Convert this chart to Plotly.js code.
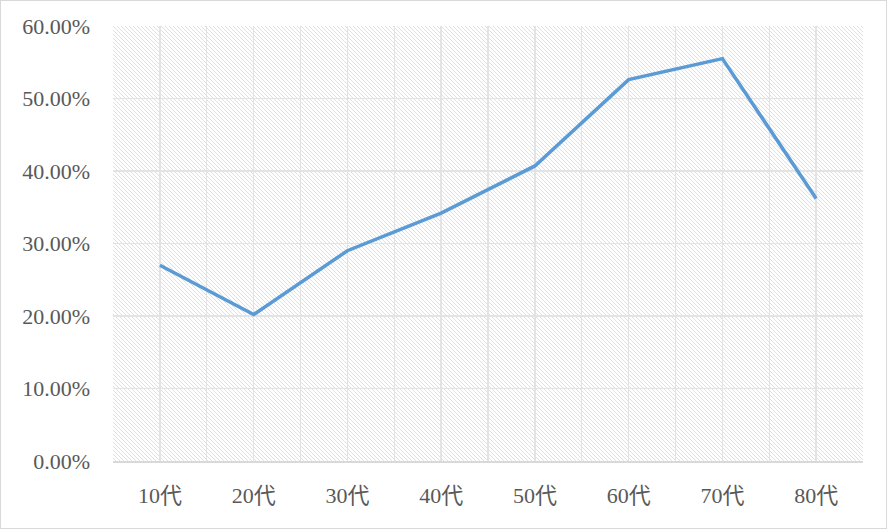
<!DOCTYPE html>
<html>
<head>
<meta charset="utf-8">
<script src="https://cdn.plot.ly/plotly-3.0.1.min.js"></script>
<style>
html,body{margin:0;padding:0;background:#fff;}
#chart{width:887px;height:529px;outline:1px solid #d9d9d9;outline-offset:-1px;}
</style>
</head>
<body>
<div id="chart"></div>
<script>
const categories = ["10代","20代","30代","40代","50代","60代","70代","80代"];
const values = [0.270, 0.202, 0.290, 0.342, 0.407, 0.526, 0.555, 0.362];
const yTickVals = [0, 0.1, 0.2, 0.3, 0.4, 0.5, 0.6];

const idx = categories.map((c, i) => i);
const bounds = categories.map((c, i) => i - 0.5).concat([categories.length - 0.5]);

const hatch = 'data:image/svg+xml;charset=utf-8,' + encodeURIComponent(
  '<svg xmlns="http://www.w3.org/2000/svg" width="750" height="435">' +
  '<defs><pattern id="p" width="4" height="4" patternUnits="userSpaceOnUse">' +
  '<path d="M-1,-1 L5,5 M-1,3 L1,5 M3,-1 L5,1" stroke="#dcdcdc" stroke-width="0.9"/>' +
  '</pattern></defs><rect width="750" height="435" fill="url(#p)"/></svg>');

const font = {family: '"Liberation Serif", "Noto Sans CJK JP", serif', size: 22, color: '#595959'};

Plotly.newPlot('chart', [{
  x: idx,
  y: values,
  type: 'scatter',
  mode: 'lines',
  line: {color: '#5B9BD5', width: 3.5},
  hoverinfo: 'skip'
}], {
  width: 887, height: 529,
  margin: {l: 113, r: 24, t: 26, b: 68},
  paper_bgcolor: 'rgba(0,0,0,0)',
  plot_bgcolor: '#ffffff',
  showlegend: false,
  font: font,
  images: [{source: hatch, xref: 'paper', yref: 'paper', x: 0, y: 1, sizex: 1, sizey: 1,
            sizing: 'stretch', layer: 'below', xanchor: 'left', yanchor: 'top'}],
  xaxis: {
    range: [-0.5, categories.length - 0.5],
    tickmode: 'array', tickvals: idx, ticktext: categories,
    showgrid: true, gridcolor: '#e3e3e3', gridwidth: 1.3,
    minor: {tickmode: 'array', tickvals: bounds, showgrid: true, gridcolor: '#e3e3e3', gridwidth: 1.3},
    zeroline: false,
    showline: true, linecolor: '#d9d9d9', linewidth: 1.5,
    ticks: '', ticklabelstandoff: 14,
    tickfont: font, fixedrange: true
  },
  yaxis: {
    range: [0, 0.6],
    tickmode: 'array', tickvals: yTickVals,
    tickformat: '.2%',
    showgrid: true, gridcolor: '#e3e3e3', gridwidth: 1.3,
    zeroline: false, showline: false,
    ticks: '', ticklabelstandoff: 22,
    tickfont: font, fixedrange: true
  }
}, {displayModeBar: false, staticPlot: true});
</script>
</body>
</html>
